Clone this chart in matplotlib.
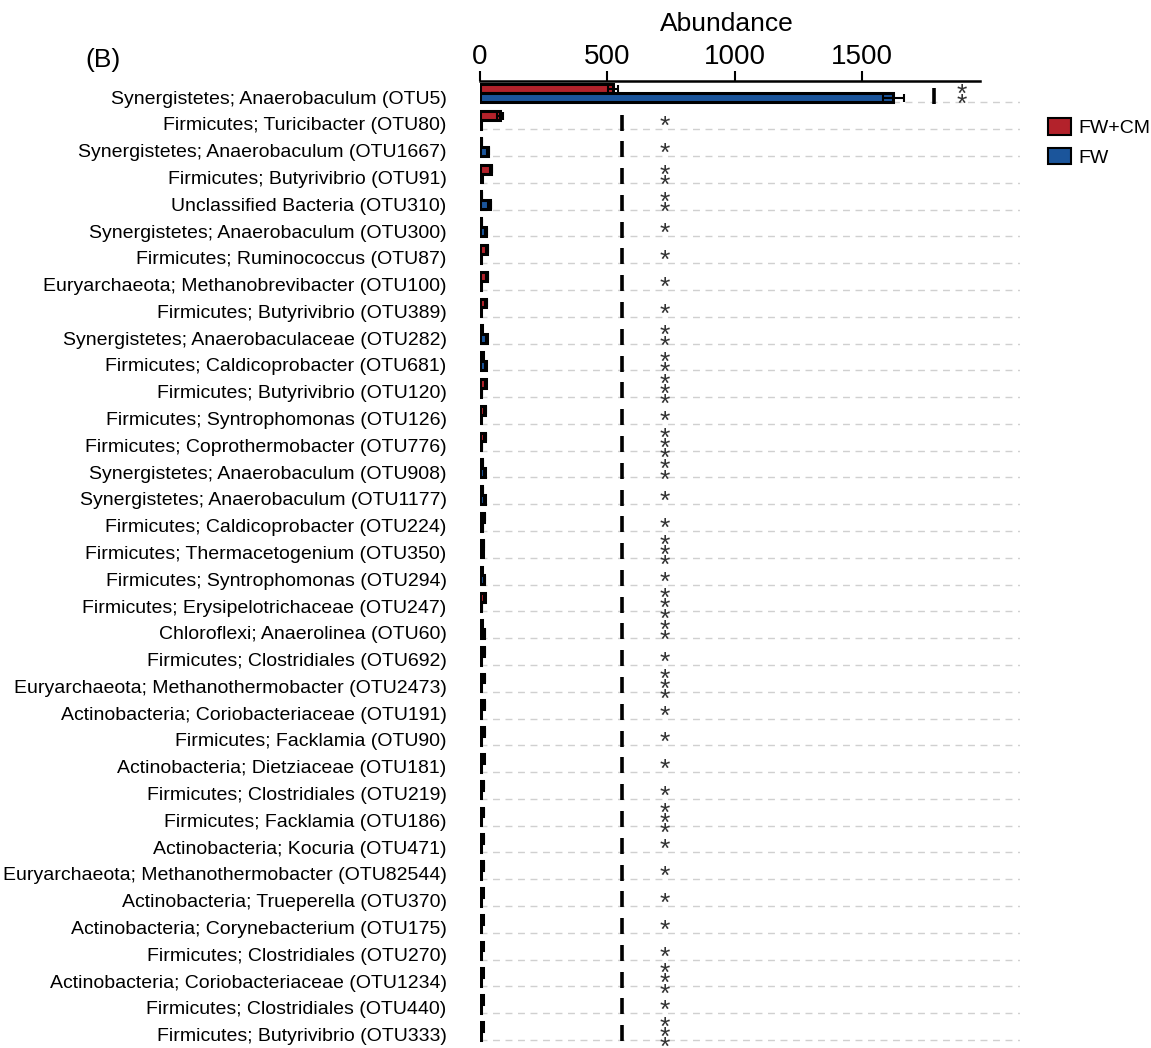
import matplotlib
matplotlib.use('Agg')
import matplotlib.pyplot as plt
from matplotlib.patches import Patch

plt.rcParams['font.family'] = ['Liberation Sans', 'DejaVu Sans']

# ── Du lieu ─────────────────────────────────────────
taxa = [
    'Synergistetes; Anaerobaculum (OTU5)',
    'Firmicutes; Turicibacter (OTU80)',
    'Synergistetes; Anaerobaculum (OTU1667)',
    'Firmicutes; Butyrivibrio (OTU91)',
    'Unclassified Bacteria (OTU310)',
    'Synergistetes; Anaerobaculum (OTU300)',
    'Firmicutes; Ruminococcus (OTU87)',
    'Euryarchaeota; Methanobrevibacter (OTU100)',
    'Firmicutes; Butyrivibrio (OTU389)',
    'Synergistetes; Anaerobaculaceae (OTU282)',
    'Firmicutes; Caldicoprobacter (OTU681)',
    'Firmicutes; Butyrivibrio (OTU120)',
    'Firmicutes; Syntrophomonas (OTU126)',
    'Firmicutes; Coprothermobacter (OTU776)',
    'Synergistetes; Anaerobaculum (OTU908)',
    'Synergistetes; Anaerobaculum (OTU1177)',
    'Firmicutes; Caldicoprobacter (OTU224)',
    'Firmicutes; Thermacetogenium (OTU350)',
    'Firmicutes; Syntrophomonas (OTU294)',
    'Firmicutes; Erysipelotrichaceae (OTU247)',
    'Chloroflexi; Anaerolinea (OTU60)',
    'Firmicutes; Clostridiales (OTU692)',
    'Euryarchaeota; Methanothermobacter (OTU2473)',
    'Actinobacteria; Coriobacteriaceae (OTU191)',
    'Firmicutes; Facklamia (OTU90)',
    'Actinobacteria; Dietziaceae (OTU181)',
    'Firmicutes; Clostridiales (OTU219)',
    'Firmicutes; Facklamia (OTU186)',
    'Actinobacteria; Kocuria (OTU471)',
    'Euryarchaeota; Methanothermobacter (OTU82544)',
    'Actinobacteria; Trueperella (OTU370)',
    'Actinobacteria; Corynebacterium (OTU175)',
    'Firmicutes; Clostridiales (OTU270)',
    'Actinobacteria; Coriobacteriaceae (OTU1234)',
    'Firmicutes; Clostridiales (OTU440)',
    'Firmicutes; Butyrivibrio (OTU333)',
]

fwcm = [522, 80, 5, 43, 5, 5, 28, 26, 24, 7, 10, 22, 20, 19, 8, 8, 16, 13,
        7, 18, 6, 16, 15, 16, 15, 14, 13, 12, 12, 12, 11, 11, 11, 11, 11, 10]
fwcm_err = [18, 12, 2, 5, 2, 2, 4, 4, 3, 2, 2, 3, 3, 3, 2, 2, 3, 2,
            2, 3, 2, 3, 3, 3, 3, 2, 2, 2, 2, 2, 2, 2, 2, 2, 2, 2]
fw = [1623, 3, 30, 6, 38, 24, 4, 3, 3, 26, 22, 5, 4, 5, 18, 18, 8, 11,
      17, 5, 16, 4, 4, 4, 4, 4, 3, 3, 3, 3, 3, 3, 3, 3, 3, 3]
fw_err = [42, 1, 4, 2, 5, 3, 1, 1, 1, 3, 3, 1, 1, 1, 3, 3, 2, 2,
          3, 1, 3, 1, 1, 1, 1, 1, 1, 1, 1, 1, 1, 1, 1, 1, 1, 1]

# vach danh dau va so sao (muc y nghia) cho tung OTU
mark_x = [1782] + [557] * 35
star_x = [1892] + [726] * 35
n_stars = [2, 1, 1, 2, 2, 1, 1, 1, 1, 2, 2, 3, 1, 3, 2, 1, 1, 3,
           1, 3, 2, 1, 3, 1, 1, 1, 1, 3, 1, 1, 1, 1, 1, 3, 1, 3]

RED = '#b3222b'
BLUE = '#1b559b'

# ── Ve hinh ─────────────────────────────────────────
fig = plt.figure(figsize=(11.51, 10.48), dpi=100)
ax = fig.add_axes([480 / 1151, 0.0, 540 / 1151, 967 / 1048])

n = len(taxa)
ys = list(range(n))
h = 0.33
y_red = [y - 0.31 for y in ys]
y_blue = [y + 0.02 for y in ys]

ax.barh(y_red, fwcm, height=h, color=RED, edgecolor='black', linewidth=2.2, zorder=3)
ax.barh(y_blue, fw, height=h, color=BLUE, edgecolor='black', linewidth=2.2, zorder=3)
ax.errorbar(fwcm, y_red, xerr=fwcm_err, fmt='none', ecolor='black',
            elinewidth=1.5, capsize=3, capthick=1.5, zorder=4)
ax.errorbar(fw, y_blue, xerr=fw_err, fmt='none', ecolor='black',
            elinewidth=1.5, capsize=3, capthick=1.5, zorder=4)

# duong ke ngang net dut duoi moi hang
for y in ys:
    ax.axhline(y + 0.2, color='#d0d0d0', lw=1.0, ls=(0, (5, 4)), zorder=1)

ax.plot(mark_x, [y - 0.05 for y in ys], ls='none', marker='|',
        ms=11, mew=2.6, color='black', zorder=5)

# sao xep chong theo chieu doc
for y, sx, k in zip(ys, star_x, n_stars):
    ax.text(sx, y + 0.12, '\n'.join(['*'] * k), ha='center', va='center',
            fontsize=19, linespacing=0.27, color='#333333')

ax.set_xlim(0, 2120)
ax.set_ylim(n - 0.5, -0.6)

ax.xaxis.set_ticks_position('top')
ax.xaxis.set_label_position('top')
ax.set_xticks([0, 500, 1000, 1500])
ax.tick_params(axis='x', direction='out', length=7, width=1.5, labelsize=20, pad=1)
ax.set_xlabel('Abundance', fontsize=19)
ax.xaxis.set_label_coords(247 / 540, 1.052)

ax.set_yticks(ys)
ax.set_yticklabels(taxa, fontsize=14)
ax.tick_params(axis='y', length=0, pad=24)

for side in ('left', 'right', 'bottom'):
    ax.spines[side].set_visible(False)
ax.spines['top'].set_linewidth(1.8)
ax.spines['top'].set_bounds(0, 1962)

handles = [Patch(facecolor=RED, edgecolor='black', lw=1.5, label='FW+CM'),
           Patch(facecolor=BLUE, edgecolor='black', lw=1.5, label='FW')]
fig.legend(handles=handles, loc='upper left', bbox_to_anchor=(1040 / 1151, 1 - 110 / 1048),
           frameon=False, fontsize=14, handlelength=1.2, handleheight=0.95,
           handletextpad=0.35, labelspacing=0.55, borderaxespad=0)

fig.text(85 / 1151, 1 - 60 / 1048, '(B)', fontsize=19, va='center', ha='left')

fig.savefig('out.png', dpi=100)
